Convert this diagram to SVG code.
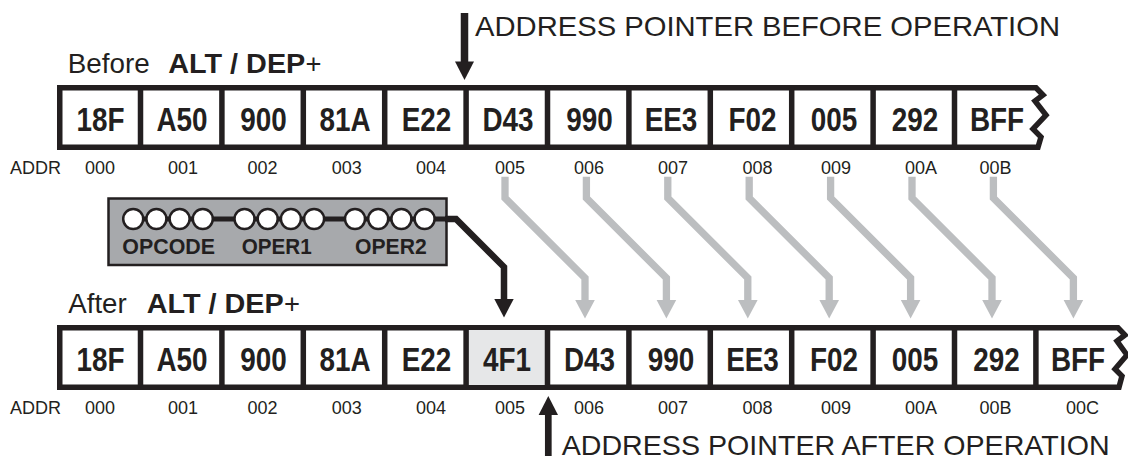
<svg xmlns="http://www.w3.org/2000/svg" width="1128" height="459" viewBox="0 0 1128 459">
<defs>
<style>
.t{font-family:"Liberation Sans",Arial,Helvetica,sans-serif;fill:#231f20}
.cell{font-size:34px;font-weight:bold;text-anchor:middle}
.addr{font-size:18px;text-anchor:middle}
.head{font-size:27px}
.bold{font-weight:bold}
.ptr{font-size:28px}
.lab{font-size:22px;font-weight:bold}
.row{fill:#fff;stroke:#231f20;stroke-width:5.5;stroke-linejoin:miter}
.div{stroke:#231f20;stroke-width:5.5}
.gray{fill:none;stroke:#bcbec0;stroke-width:7.3;stroke-linejoin:miter}
.grayh{fill:#bcbec0}
.blk{fill:none;stroke:#231f20;stroke-width:6.5;stroke-linejoin:miter}
.blkh{fill:#231f20}
.bit{fill:#fff;stroke:#231f20;stroke-width:2.5}
</style>
</defs>

<!-- Header labels -->
<g id="label-before">
<text class="t head" x="67.7" y="72.7" textLength="82" lengthAdjust="spacingAndGlyphs">Before</text>
<text class="t head bold" x="168.3" y="72.7" textLength="137" lengthAdjust="spacingAndGlyphs">ALT / DEP</text>
<text class="t head" x="305.5" y="72.7" textLength="16" lengthAdjust="spacingAndGlyphs">+</text>
</g>
<g id="label-after">
<text class="t head" x="68.3" y="313" textLength="58.4" lengthAdjust="spacingAndGlyphs">After</text>
<text class="t head bold" x="146.7" y="313" textLength="137" lengthAdjust="spacingAndGlyphs">ALT / DEP</text>
<text class="t head" x="283.9" y="313" textLength="16" lengthAdjust="spacingAndGlyphs">+</text>
</g>

<!-- Pointer before -->
<g id="pointer-before">
<line x1="464.5" y1="13" x2="464.5" y2="64" stroke="#231f20" stroke-width="7.5"/>
<polygon class="blkh" points="455,61.5 474,61.5 464.5,80"/>
<text class="t ptr" x="475" y="36" textLength="585" lengthAdjust="spacingAndGlyphs">ADDRESS POINTER BEFORE OPERATION</text>
</g>

<!-- Row before -->
<g id="row-before">
<path class="row" d="M59.75 87.75 H1036 L1043 95 L1035 101 L1046 115 L1033 129 L1041 137 L1038 147.25 H59.75 Z"/>
<g class="div">
<line x1="140.5" y1="87.75" x2="140.5" y2="147.25"/>
<line x1="221.9" y1="87.75" x2="221.9" y2="147.25"/>
<line x1="303.3" y1="87.75" x2="303.3" y2="147.25"/>
<line x1="384.7" y1="87.75" x2="384.7" y2="147.25"/>
<line x1="466.1" y1="87.75" x2="466.1" y2="147.25"/>
<line x1="547.5" y1="87.75" x2="547.5" y2="147.25"/>
<line x1="628.9" y1="87.75" x2="628.9" y2="147.25"/>
<line x1="710.3" y1="87.75" x2="710.3" y2="147.25"/>
<line x1="791.7" y1="87.75" x2="791.7" y2="147.25"/>
<line x1="873.1" y1="87.75" x2="873.1" y2="147.25"/>
<line x1="954.5" y1="87.75" x2="954.5" y2="147.25"/>
</g>
<text class="t addr" x="10" y="174" style="text-anchor:start">ADDR</text>
</g>
<g id="before-000"><text class="t cell" transform="translate(100.5,130.5) scale(0.82,1)">18F</text><text class="t addr" x="100" y="174">000</text></g>
<g id="before-001"><text class="t cell" transform="translate(182,130.5) scale(0.82,1)">A50</text><text class="t addr" x="183" y="174">001</text></g>
<g id="before-002"><text class="t cell" transform="translate(263.5,130.5) scale(0.82,1)">900</text><text class="t addr" x="262.5" y="174">002</text></g>
<g id="before-003"><text class="t cell" transform="translate(345,130.5) scale(0.82,1)">81A</text><text class="t addr" x="346.7" y="174">003</text></g>
<g id="before-004"><text class="t cell" transform="translate(426.5,130.5) scale(0.82,1)">E22</text><text class="t addr" x="431" y="174">004</text></g>
<g id="before-005"><text class="t cell" transform="translate(508,130.5) scale(0.82,1)">D43</text><text class="t addr" x="510" y="174">005</text></g>
<g id="before-006"><text class="t cell" transform="translate(589.5,130.5) scale(0.82,1)">990</text><text class="t addr" x="589" y="174">006</text></g>
<g id="before-007"><text class="t cell" transform="translate(671,130.5) scale(0.82,1)">EE3</text><text class="t addr" x="673" y="174">007</text></g>
<g id="before-008"><text class="t cell" transform="translate(752.5,130.5) scale(0.82,1)">F02</text><text class="t addr" x="757.5" y="174">008</text></g>
<g id="before-009"><text class="t cell" transform="translate(834,130.5) scale(0.82,1)">005</text><text class="t addr" x="836" y="174">009</text></g>
<g id="before-00A"><text class="t cell" transform="translate(915,130.5) scale(0.82,1)">292</text><text class="t addr" x="921" y="174">00A</text></g>
<g id="before-00B"><text class="t cell" transform="translate(997,130.5) scale(0.82,1)">BFF</text><text class="t addr" x="995.5" y="174">00B</text></g>

<!-- Instruction box -->
<g id="instruction">
<rect x="108.5" y="198.5" width="338" height="66.5" fill="#a7a9ac" stroke="#231f20" stroke-width="2.5"/>
<line x1="133" y1="219" x2="446" y2="219" stroke="#231f20" stroke-width="5"/>
<circle class="bit" cx="133.2" cy="219" r="10"/>
<circle class="bit" cx="156.4" cy="219" r="10"/>
<circle class="bit" cx="179.6" cy="219" r="10"/>
<circle class="bit" cx="202.8" cy="219" r="10"/>
<circle class="bit" cx="244.5" cy="219" r="10"/>
<circle class="bit" cx="267.7" cy="219" r="10"/>
<circle class="bit" cx="290.9" cy="219" r="10"/>
<circle class="bit" cx="314.1" cy="219" r="10"/>
<circle class="bit" cx="355" cy="219" r="10"/>
<circle class="bit" cx="378.2" cy="219" r="10"/>
<circle class="bit" cx="401.4" cy="219" r="10"/>
<circle class="bit" cx="424.6" cy="219" r="10"/>
<text class="t lab" x="122.3" y="253.5" textLength="92.7" lengthAdjust="spacingAndGlyphs">OPCODE</text>
<text class="t lab" x="241.7" y="253.5" textLength="70" lengthAdjust="spacingAndGlyphs">OPER1</text>
<text class="t lab" x="355" y="253.5" textLength="71.7" lengthAdjust="spacingAndGlyphs">OPER2</text>
</g>

<!-- Connectors -->
<g id="connectors">
<path class="blk" d="M445 219 H456 L504 267 V301"/>
<polygon class="blkh" points="494.3,299 513.7,299 504,317.5"/>
<path class="gray" d="M505 176.7 V198 L585 278 V302"/>
<polygon class="grayh" points="575.2,300 594.8,300 585,318.5"/>
<path class="gray" d="M586.4 176.7 V198 L666.4 278 V302"/>
<polygon class="grayh" points="656.6,300 676.2,300 666.4,318.5"/>
<path class="gray" d="M667.8 176.7 V198 L747.8 278 V302"/>
<polygon class="grayh" points="738,300 757.6,300 747.8,318.5"/>
<path class="gray" d="M749.2 176.7 V198 L829.2 278 V302"/>
<polygon class="grayh" points="819.4,300 839,300 829.2,318.5"/>
<path class="gray" d="M830.6 176.7 V198 L910.6 278 V302"/>
<polygon class="grayh" points="900.8,300 920.4,300 910.6,318.5"/>
<path class="gray" d="M912 176.7 V198 L992 278 V302"/>
<polygon class="grayh" points="982.2,300 1001.8,300 992,318.5"/>
<path class="gray" d="M993.4 176.7 V198 L1073.4 278 V302"/>
<polygon class="grayh" points="1063.6,300 1083.2,300 1073.4,318.5"/>
</g>

<!-- Row after -->
<g id="row-after">
<path class="row" d="M59.75 327.75 H1118 L1125 335 L1117 341 L1127 355 L1115 369 L1122 376 L1119 387.25 H59.75 Z"/>
<rect x="466.1" y="330" width="81.4" height="55" fill="#e6e7e8"/>
<g class="div">
<line x1="140.5" y1="327.75" x2="140.5" y2="387.25"/>
<line x1="221.9" y1="327.75" x2="221.9" y2="387.25"/>
<line x1="303.3" y1="327.75" x2="303.3" y2="387.25"/>
<line x1="384.7" y1="327.75" x2="384.7" y2="387.25"/>
<line x1="466.1" y1="327.75" x2="466.1" y2="387.25"/>
<line x1="547.5" y1="327.75" x2="547.5" y2="387.25"/>
<line x1="628.9" y1="327.75" x2="628.9" y2="387.25"/>
<line x1="710.3" y1="327.75" x2="710.3" y2="387.25"/>
<line x1="791.7" y1="327.75" x2="791.7" y2="387.25"/>
<line x1="873.1" y1="327.75" x2="873.1" y2="387.25"/>
<line x1="954.5" y1="327.75" x2="954.5" y2="387.25"/>
<line x1="1035.9" y1="327.75" x2="1035.9" y2="387.25"/>
</g>
<text class="t addr" x="10" y="413.5" style="text-anchor:start">ADDR</text>
</g>
<g id="after-000"><text class="t cell" transform="translate(100.5,370.5) scale(0.82,1)">18F</text><text class="t addr" x="100" y="413.5">000</text></g>
<g id="after-001"><text class="t cell" transform="translate(182,370.5) scale(0.82,1)">A50</text><text class="t addr" x="183" y="413.5">001</text></g>
<g id="after-002"><text class="t cell" transform="translate(263.5,370.5) scale(0.82,1)">900</text><text class="t addr" x="262.5" y="413.5">002</text></g>
<g id="after-003"><text class="t cell" transform="translate(345,370.5) scale(0.82,1)">81A</text><text class="t addr" x="346.7" y="413.5">003</text></g>
<g id="after-004"><text class="t cell" transform="translate(426.5,370.5) scale(0.82,1)">E22</text><text class="t addr" x="431" y="413.5">004</text></g>
<g id="after-005"><text class="t cell" transform="translate(507,370.5) scale(0.82,1)">4F1</text><text class="t addr" x="510" y="413.5">005</text></g>
<g id="after-006"><text class="t cell" transform="translate(589.5,370.5) scale(0.82,1)">D43</text><text class="t addr" x="589" y="413.5">006</text></g>
<g id="after-007"><text class="t cell" transform="translate(671,370.5) scale(0.82,1)">990</text><text class="t addr" x="673" y="413.5">007</text></g>
<g id="after-008"><text class="t cell" transform="translate(752.5,370.5) scale(0.82,1)">EE3</text><text class="t addr" x="757.5" y="413.5">008</text></g>
<g id="after-009"><text class="t cell" transform="translate(834,370.5) scale(0.82,1)">F02</text><text class="t addr" x="836" y="413.5">009</text></g>
<g id="after-00A"><text class="t cell" transform="translate(915,370.5) scale(0.82,1)">005</text><text class="t addr" x="921" y="413.5">00A</text></g>
<g id="after-00B"><text class="t cell" transform="translate(996.5,370.5) scale(0.82,1)">292</text><text class="t addr" x="995.5" y="413.5">00B</text></g>
<g id="after-00C"><text class="t cell" transform="translate(1078,370.5) scale(0.82,1)">BFF</text><text class="t addr" x="1082.5" y="413.5">00C</text></g>

<!-- Pointer after -->
<g id="pointer-after">
<line x1="548.3" y1="413" x2="548.3" y2="456" stroke="#231f20" stroke-width="6.7"/>
<polygon class="blkh" points="538.6,415 558,415 548.3,396"/>
<text class="t ptr" x="561.7" y="455" textLength="548" lengthAdjust="spacingAndGlyphs">ADDRESS POINTER AFTER OPERATION</text>
</g>
</svg>
